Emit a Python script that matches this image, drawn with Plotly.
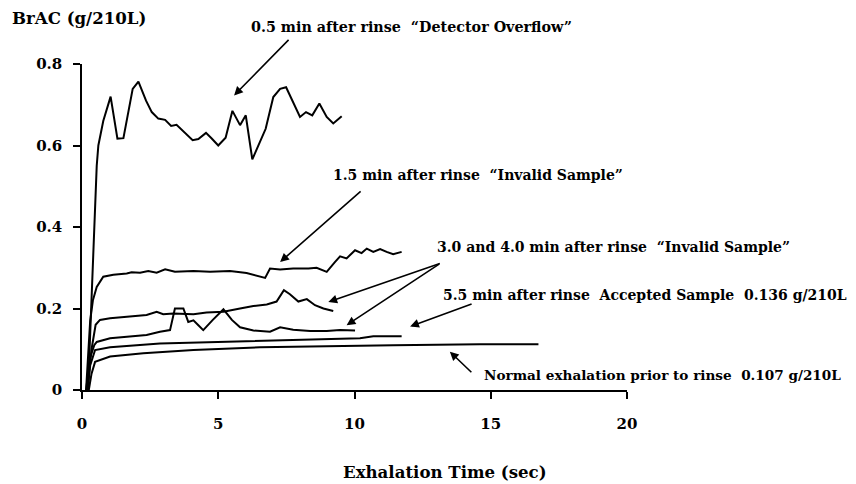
import plotly.graph_objects as go

# ---- data ----
t_05 = [0.22, 0.40, 0.54, 0.60, 0.78, 1.05, 1.30, 1.52, 1.86, 2.07, 2.35, 2.56, 2.80, 3.05, 3.27, 3.47,
        3.74, 4.06, 4.27, 4.55, 4.76, 5.00, 5.27, 5.52, 5.80, 6.01, 6.25, 6.51, 6.74, 7.02, 7.27, 7.49,
        7.73, 8.00, 8.22, 8.45, 8.71, 8.98, 9.22, 9.53]
b_05 = [0.00, 0.30, 0.55, 0.60, 0.66, 0.72, 0.617, 0.618, 0.739, 0.757, 0.71, 0.682, 0.666, 0.663, 0.648, 0.651,
        0.633, 0.613, 0.616, 0.631, 0.617, 0.600, 0.619, 0.685, 0.650, 0.674, 0.566, 0.605, 0.641, 0.719, 0.739, 0.743,
        0.707, 0.670, 0.682, 0.674, 0.703, 0.670, 0.654, 0.672]

t_15 = [0.15, 0.30, 0.40, 0.54, 0.78, 1.15, 1.64, 1.82, 2.13, 2.43, 2.74, 3.05, 3.41, 4.09, 4.70, 5.43,
        6.04, 6.53, 6.72, 6.90, 7.27, 7.75, 8.31, 8.61, 8.98, 9.28, 9.47, 9.71, 10.02, 10.26, 10.45, 10.69,
        10.94, 11.18, 11.42, 11.73]
b_15 = [0.00, 0.17, 0.22, 0.253, 0.278, 0.283, 0.286, 0.289, 0.288, 0.292, 0.288, 0.296, 0.290, 0.292, 0.290, 0.292,
        0.287, 0.279, 0.275, 0.298, 0.296, 0.298, 0.298, 0.300, 0.290, 0.314, 0.328, 0.323, 0.343, 0.336, 0.347, 0.339,
        0.346, 0.339, 0.333, 0.339]

t_30 = [0.20, 0.35, 0.50, 0.66, 1.03, 1.64, 2.37, 2.74, 2.98, 3.35, 4.09, 4.57, 5.19, 5.80, 6.29, 6.78,
        7.14, 7.41, 7.63, 7.94, 8.25, 8.55, 8.86, 9.22]
b_30 = [0.00, 0.10, 0.16, 0.172, 0.176, 0.180, 0.184, 0.192, 0.186, 0.188, 0.186, 0.190, 0.192, 0.200, 0.206, 0.210,
        0.217, 0.245, 0.235, 0.217, 0.223, 0.208, 0.200, 0.194]

t_40 = [0.15, 0.30, 0.45, 0.54, 1.03, 1.64, 2.37, 2.86, 3.23, 3.41, 3.72, 3.90, 4.09, 4.27, 4.45, 4.80,
        5.19, 5.50, 5.80, 6.29, 6.90, 7.27, 7.75, 8.37, 8.98, 9.47, 10.02]
b_40 = [0.00, 0.08, 0.11, 0.118, 0.127, 0.131, 0.135, 0.143, 0.147, 0.200, 0.200, 0.167, 0.171, 0.159, 0.147, 0.172,
        0.198, 0.172, 0.154, 0.146, 0.143, 0.154, 0.148, 0.145, 0.145, 0.147, 0.146]

t_55 = [0.20, 0.30, 0.48, 1.03, 2.86, 5.31, 7.75, 10.20, 10.69, 11.73]
b_55 = [0.00, 0.06, 0.098, 0.105, 0.114, 0.118, 0.123, 0.127, 0.132, 0.132]

t_norm = [0.25, 0.35, 0.48, 1.03, 2.25, 4.09, 6.53, 8.98, 11.42, 14.60, 16.75]
b_norm = [0.00, 0.04, 0.069, 0.082, 0.090, 0.098, 0.105, 0.108, 0.110, 0.112, 0.112]

x_ticks = [0, 5, 10, 15, 20]
y_ticks = [0, 0.2, 0.4, 0.6, 0.8]
y_ticktext = ["0", "0.2", "0.4", "0.6", "0.8"]

FONT = "DejaVu Serif"

fig = go.Figure()
for tx, by in [(t_05, b_05), (t_15, b_15), (t_30, b_30), (t_40, b_40), (t_55, b_55), (t_norm, b_norm)]:
    fig.add_trace(go.Scatter(x=tx, y=by, mode="lines",
                             line=dict(color="black", width=2), showlegend=False,
                             hoverinfo="skip"))

# arrows: (head x, head y, pixel offset of tail)
arrows = [(5.58, 0.723, 56, -57),
          (7.27, 0.314, 82, -72),
          (9.04, 0.216, 113, -39),
          (9.71, 0.159, 94, -62),
          (12.04, 0.156, 63, -23),
          (13.50, 0.094, 23, 22)]
for hx, hy, ax, ay in arrows:
    fig.add_annotation(x=hx, y=hy, xref="x", yref="y", text="", showarrow=True,
                       ax=ax, ay=ay, axref="pixel", ayref="pixel",
                       arrowhead=2, arrowsize=1.1, arrowwidth=1.6, arrowcolor="black")

labels = [("0.5 min after rinse  \u201cDetector Overflow\u201d", 0.6055, 1.112, 14.3),
          ("1.5 min after rinse  \u201cInvalid Sample\u201d", 0.7257, 0.6585, 14),
          ("3.0 and 4.0 min after rinse  \u201cInvalid Sample\u201d", 0.975, 0.438, 14),
          ("5.5 min after rinse  Accepted Sample  0.136 g/210L", 1.033, 0.291, 14),
          ("Normal exhalation prior to rinse  0.107 g/210L", 1.066, 0.046, 13.6)]
for txt, px, py, fs in labels:
    fig.add_annotation(x=px, y=py, xref="paper", yref="paper", text=txt, showarrow=False,
                       xanchor="center", yanchor="middle",
                       font=dict(family=FONT, size=fs, color="black", weight="bold"))

fig.add_annotation(x=-0.0046, y=1.142, xref="paper", yref="paper", text="BrAC (g/210L)",
                   showarrow=False, xanchor="center", yanchor="middle",
                   font=dict(family=FONT, size=16.6, color="black", weight="bold"))
fig.add_annotation(x=0.666, y=-0.251, xref="paper", yref="paper", text="Exhalation Time (sec)",
                   showarrow=False, xanchor="center", yanchor="middle",
                   font=dict(family=FONT, size=16.6, color="black", weight="bold"))

axis_common = dict(showgrid=False, zeroline=False, showline=True, linecolor="black", linewidth=1.5,
                   ticks="outside", ticklen=7, tickwidth=1.5, tickcolor="black",
                   tickfont=dict(family=FONT, size=15, color="black", weight="bold"))
fig.update_xaxes(range=[0, 20], tickvals=x_ticks, ticklabelstandoff=12, **axis_common)
fig.update_yaxes(range=[0, 0.8], tickvals=y_ticks, ticktext=y_ticktext, ticklabelstandoff=8, **axis_common)

# page body has an 8px margin: figure is 848x476 placed at (8, 8)
fig.update_layout(width=848, height=476, plot_bgcolor="white", paper_bgcolor="white",
                  margin=dict(l=74, r=229, t=55.5, b=94, autoexpand=False))

fig.write_html("out.html")
